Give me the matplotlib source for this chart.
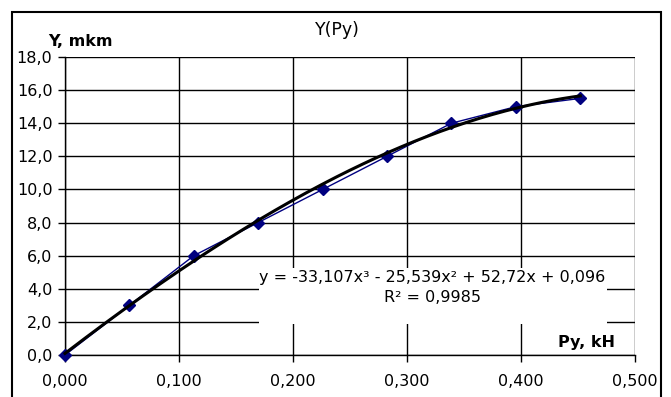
import numpy as np
import matplotlib
matplotlib.use("Agg")
import matplotlib.pyplot as plt
from matplotlib.patches import Rectangle
from matplotlib.ticker import FuncFormatter, MultipleLocator

plt.rcParams['font.family'] = ['DejaVu Sans']

# Measured load Py (kH) and displacement Y (mkm)
py_values = [0.0, 0.0565, 0.113, 0.1695, 0.226, 0.2825, 0.339, 0.3955, 0.452]
y_values = [0.0, 3.0, 6.0, 8.0, 10.0, 12.0, 14.0, 15.0, 15.5]

# Cubic trendline coefficients (highest power first) and its R^2
trend_coeffs = [-33.107, -25.539, 52.72, 0.096]
r_squared = 0.9985

title_text = "Y(Py)"
x_label = "Py, kH"
y_label = "Y, mkm"

FS = 11.5
W, H = 671, 397
fig = plt.figure(figsize=(W / 100, H / 100), dpi=100)
fig.patch.set_facecolor('white')

# outer chart frame (runs off the bottom edge)
fig.patches.append(Rectangle((12 / W, -0.1), (661 - 12) / W, 1 - 12 / H + 0.1,
                             transform=fig.transFigure, fill=False,
                             edgecolor='black', linewidth=1.5, zorder=10))

ax = fig.add_axes([65 / W, 1 - 355 / H, (635 - 65) / W, (355 - 57) / H])
ax.set_xlim(0, 0.5)
ax.set_ylim(0, 18)
ax.xaxis.set_major_locator(MultipleLocator(0.1))
ax.yaxis.set_major_locator(MultipleLocator(2))
ax.xaxis.set_major_formatter(FuncFormatter(lambda v, p: f"{v:.3f}".replace('.', ',')))
ax.yaxis.set_major_formatter(FuncFormatter(lambda v, p: f"{v:.1f}".replace('.', ',')))

ax.set_axisbelow(True)
ax.grid(True, color='black', linewidth=1.0)
for side in ('top', 'right'):
    ax.spines[side].set_visible(False)
for side in ('left', 'bottom'):
    ax.spines[side].set_linewidth(1.0)
ax.tick_params(axis='x', direction='out', length=5, width=1.0, pad=9, labelsize=FS)
ax.tick_params(axis='y', direction='out', length=5, width=1.0, pad=4, labelsize=FS)

# data series
ax.plot(py_values, y_values, color='#000080', linewidth=1.0, marker='D',
        markersize=6, markerfacecolor='#000080', markeredgecolor='#000080',
        zorder=3, clip_on=False)

# polynomial trendline over the data range
xs = np.linspace(min(py_values), max(py_values), 200)
ax.plot(xs, np.polyval(trend_coeffs, xs), color='black', linewidth=2.2,
        zorder=4, clip_on=False)

# equation label on a white backing that hides the grid
ax.add_patch(Rectangle((0.340, 0.104), 0.611, 0.188, transform=ax.transAxes,
                       facecolor='white', edgecolor='none', zorder=1))
c = trend_coeffs
eq = (f"y = {c[0]:.3f}x³ - {abs(c[1]):.3f}x² + {c[2]:.2f}x + {c[3]:.3f}").replace('.', ',')
r2 = f"R² = {r_squared:.4f}".replace('.', ',')
ax.text(0.644, 0.260, eq, transform=ax.transAxes, ha='center', va='center',
        fontsize=FS, zorder=5)
ax.text(0.644, 0.193, r2, transform=ax.transAxes, ha='center', va='center',
        fontsize=FS, zorder=5)

fig.text(337 / W, 1 - 30 / H, title_text, ha='center', va='center', fontsize=12.5)
fig.text(48 / W, 1 - 41 / H, y_label, ha='left', va='center', fontsize=FS,
         fontweight='bold')
fig.text(615 / W, 1 - 342 / H, x_label, ha='right', va='center', fontsize=FS,
         fontweight='bold')

fig.savefig("out.png", dpi=100, facecolor='white')
